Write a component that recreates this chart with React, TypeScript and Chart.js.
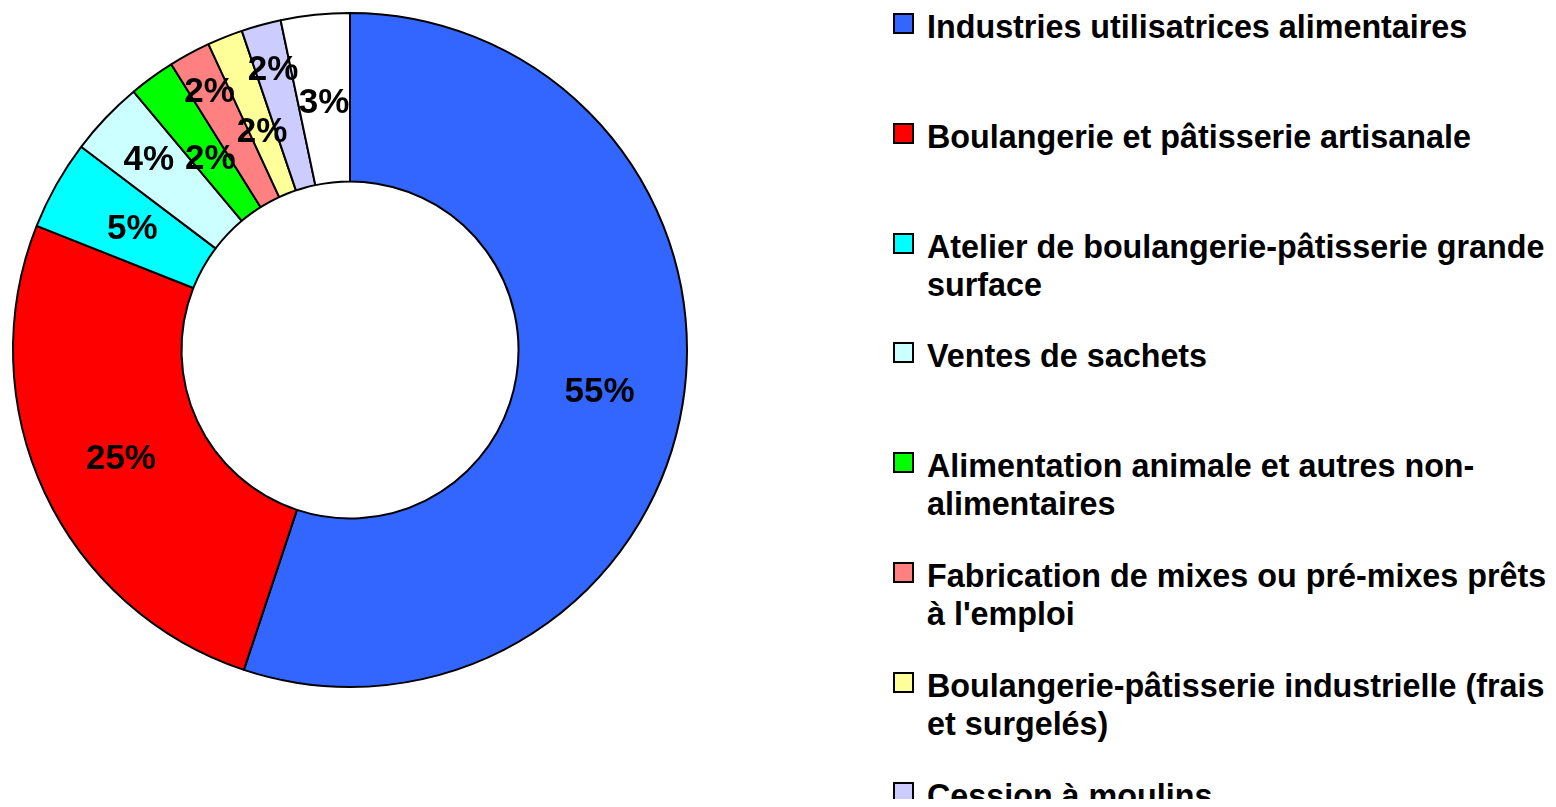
import React, { useEffect, useRef } from "react";
import { Chart, registerables } from "chart.js";

Chart.register(...registerables);

// ---- data ----
const categories = [
  "Industries utilisatrices alimentaires",
  "Boulangerie et pâtisserie artisanale",
  "Atelier de boulangerie-pâtisserie grande surface",
  "Ventes de sachets",
  "Alimentation animale et autres non-alimentaires",
  "Fabrication de mixes ou pré-mixes prêts à l'emploi",
  "Boulangerie-pâtisserie industrielle (frais et surgelés)",
  "Cession à moulins",
  "Autres",
];
const shares = [55.1, 25.9, 4.3, 3.6, 2.2, 2.0, 1.7, 1.9, 3.3];
const percentLabels = ["55%", "25%", "5%", "4%", "2%", "2%", "2%", "2%", "3%"];

// ---- styles ----
const sliceColors = [
  "#3366FF",
  "#FF0000",
  "#00FFFF",
  "#CCFFFF",
  "#00FF00",
  "#FF8080",
  "#FFFF99",
  "#CCCCFF",
  "#FFFFFF",
];
// radial nudge (px) of the value labels of the thin slices, as in the original
const labelRadialShift = [0, 0, -3, 25, -15, 42, -16, 39, -3];
const visibleLegendItems = 8; // the last entry is cut off at the bottom of the picture

const FONT = '"Liberation Sans", Arial, Helvetica, sans-serif';

const valueLabelPlugin = {
  id: "valueLabels",
  afterDatasetsDraw(chart: any) {
    const ctx = chart.ctx;
    const meta = chart.getDatasetMeta(0);
    ctx.save();
    ctx.font = `bold 35px ${FONT}`;
    ctx.fillStyle = "#000";
    ctx.textAlign = "center";
    ctx.textBaseline = "middle";
    meta.data.forEach((arc: any, i: number) => {
      const p = arc.getProps(["x", "y", "startAngle", "endAngle", "innerRadius", "outerRadius"], true);
      const mid = (p.startAngle + p.endAngle) / 2;
      const r = (p.innerRadius + p.outerRadius) / 2 + (labelRadialShift[i] || 0);
      ctx.fillText(percentLabels[i], p.x + Math.cos(mid) * r, p.y + Math.sin(mid) * r + 2);
    });
    ctx.restore();
  },
};

function Doughnut() {
  const ref = useRef<HTMLCanvasElement | null>(null);
  useEffect(() => {
    if (!ref.current) return;
    const chart = new Chart(ref.current, {
      type: "doughnut",
      data: {
        labels: categories,
        datasets: [
          {
            data: shares,
            backgroundColor: sliceColors,
            borderColor: "#000000",
            borderWidth: 2,
          },
        ],
      },
      options: {
        responsive: false,
        animation: false,
        cutout: "50%",
        layout: { padding: 4 },
        plugins: {
          legend: { display: false },
          tooltip: { enabled: true },
        },
      },
      plugins: [valueLabelPlugin],
    });
    return () => chart.destroy();
  }, []);
  return (
    <canvas
      ref={ref}
      width={684}
      height={684}
      style={{ position: "absolute", left: 0, top: 0, width: 684, height: 684 }}
    />
  );
}

export default function App() {
  const itemStep = 109.8;
  useEffect(() => {
    const html = document.documentElement.style.overflow;
    const body = document.body.style.overflow;
    document.documentElement.style.overflow = "hidden";
    document.body.style.overflow = "hidden";
    return () => {
      document.documentElement.style.overflow = html;
      document.body.style.overflow = body;
    };
  }, []);
  return (
    <div
      style={{
        position: "relative",
        width: 1540,
        height: 791,
        background: "#fff",
        fontFamily: FONT,
      }}
    >
      <Doughnut />
      {categories.slice(0, visibleLegendItems).map((c, i) => (
        <div
          key={c}
          style={{
            position: "absolute",
            left: 885,
            top: i * itemStep,
            width: 660,
          }}
        >
          <div
            style={{
              position: "absolute",
              left: 0,
              top: 5,
              width: 17,
              height: 17,
              background: sliceColors[i],
              border: "2px solid #000",
            }}
          />
          <div
            style={{
              marginLeft: 34,
              width: 625,
              fontSize: "32.3px",
              lineHeight: "38px",
              fontWeight: "bold",
              color: "#000",
            }}
          >
            {c}
          </div>
        </div>
      ))}
    </div>
  );
}
